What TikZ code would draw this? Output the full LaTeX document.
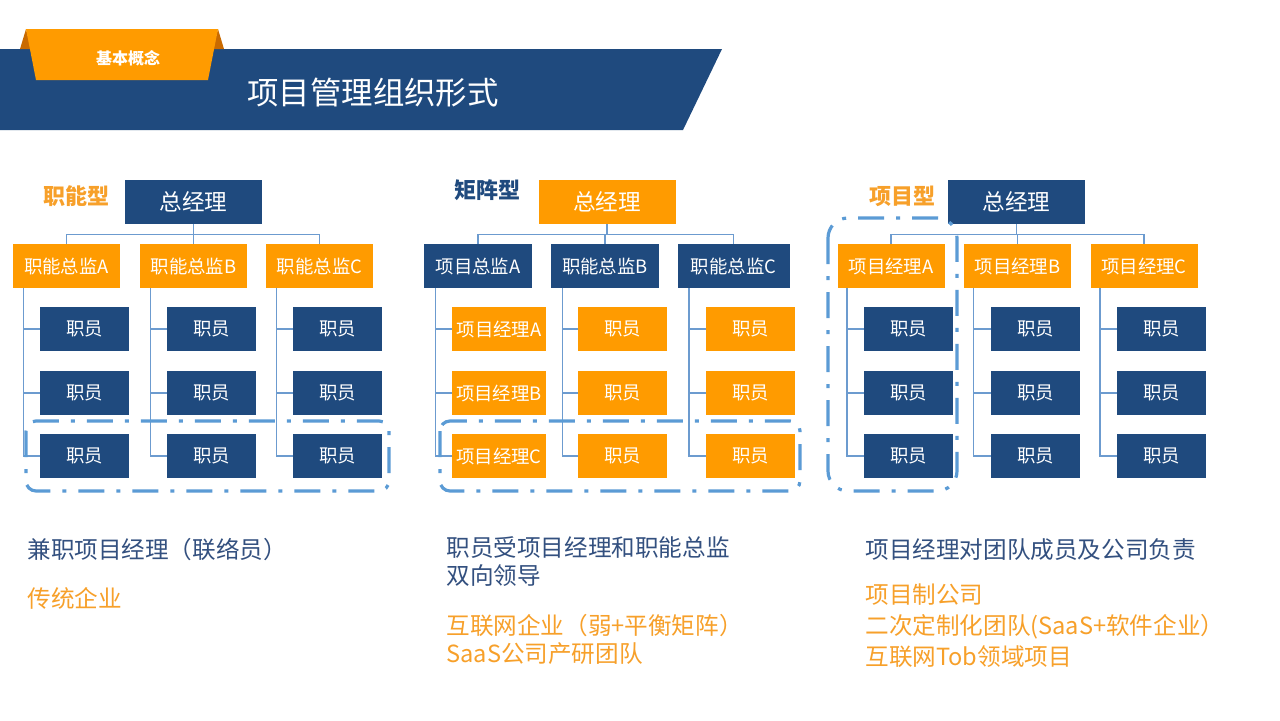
\documentclass[tikz,border=0pt]{standalone}
\usepackage{fontspec}
\setmainfont{Noto Sans CJK SC}
\usepackage{tikz}
\usepackage{xcolor}
\usetikzlibrary{positioning,calc}
\definecolor{navy}{HTML}{1F4A7E}
\definecolor{amber}{HTML}{FF9B00}
\definecolor{amberdark}{HTML}{C96A00}
\definecolor{linkblue}{HTML}{6C9BCF}
\definecolor{groupblue}{HTML}{5B9BD5}
\definecolor{textblue}{HTML}{33507F}
\definecolor{textamber}{HTML}{F7A02A}
\newcommand{\staffrows}{329/1,393/2,456/3}

\begin{document}
\begin{tikzpicture}[x=0.5pt,y=-0.5pt,
  box/.style={text=white, inner sep=0pt, minimum height=22pt},
  bluebox/.style={box, fill=navy},
  amberbox/.style={box, fill=amber},
  gm/.style={minimum width=68.5pt, font=\fontsize{11.3}{13}\selectfont},
  head/.style={minimum width=53.5pt, font=\fontsize{9.2}{11}\selectfont},
  staff/.style={minimum width=44.5pt, font=\fontsize{9.2}{11}\selectfont},
  link/.style={draw=linkblue, line width=0.8pt},
  group/.style={draw=groupblue, line width=1.6pt, dash pattern=on 13pt off 6pt on 2pt off 6pt},
  kind/.style={font=\fontsize{11}{13}\selectfont\bfseries},
  note/.style={anchor=west, align=left, inner sep=0pt}]
  \useasboundingbox[fill=white] (0,0) rectangle (1280,720);

  % header
  \fill[navy] (0,49) -- (722,49) -- (683,130) -- (0,130) -- cycle;
  \fill[amberdark] (26,29) -- (20,49) -- (31,49) -- cycle;
  \fill[amberdark] (218,29) -- (224,49) -- (213,49) -- cycle;
  \fill[amber] (26,29) -- (218,29) -- (208,80) -- (36,80) -- cycle;
  \node[text=white, font=\fontsize{8}{10}\selectfont\bfseries] (tag) at (128,58) {基本概念};
  \node[text=white, font=\fontsize{15.7}{18}\selectfont] (title) at (373,93) {项目管理组织形式};

  % functional
  \node[kind, text=textamber] (k1) at (76,196) {职能型};
  \node[bluebox, gm] (gm1) at (193.5,202) {总经理};
  \node[amberbox, head] (fa) at (66.5,266) {职能总监A};
  \node[amberbox, head] (fb) at (193.5,266) {职能总监B};
  \node[amberbox, head] (fc) at (319.5,266) {职能总监C};
  \foreach \h in {fa,fb,fc}
    \draw[link] (gm1.south) -- ++(0,-5pt) -| (\h.north);
  \foreach \y/\i in \staffrows {
    \node[bluebox, staff] (fa\i) at (84.5,\y) {职员};
    \node[bluebox, staff] (fb\i) at (211.5,\y) {职员};
    \node[bluebox, staff] (fc\i) at (337.5,\y) {职员};
    \foreach \h in {fa,fb,fc}
      \draw[link] ([xshift=5.5pt]\h.south west) |- (\h\i.west);
  }
  \draw[group, rounded corners=5pt] (26,421) rectangle (389,491);

  % matrix
  \node[kind, text=navy] (k2) at (487,190) {矩阵型};
  \node[amberbox, gm] (gm2) at (607,202) {总经理};
  \node[bluebox, head, minimum width=54pt] (pa) at (478,266) {项目总监A};
  \node[bluebox, head, minimum width=54pt] (pb) at (605,266) {职能总监B};
  \node[bluebox, head, minimum width=56pt] (pc) at (733.5,266) {职能总监C};
  \foreach \h in {pa,pb,pc}
    \draw[link] (gm2.south) -- ++(0,-5pt) -| (\h.north);
  \node[amberbox, staff, minimum width=47pt] (pa1) at (499,329) {项目经理A};
  \node[amberbox, staff, minimum width=47pt] (pa2) at (499,393) {项目经理B};
  \node[amberbox, staff, minimum width=47pt] (pa3) at (499,456) {项目经理C};
  \foreach \y/\i in \staffrows {
    \node[amberbox, staff] (pb\i) at (622.5,\y) {职员};
    \node[amberbox, staff] (pc\i) at (750.5,\y) {职员};
    \foreach \h in {pa,pb,pc}
      \draw[link] ([xshift=6pt]\h.south west) |- (\h\i.west);
  }
  \draw[group, rounded corners=5pt] (440,421) rectangle (800,491);

  % project
  \node[kind, text=textamber] (k3) at (902,196) {项目型};
  \node[bluebox, gm] (gm3) at (1016.5,202) {总经理};
  \node[amberbox, head] (ja) at (891,266) {项目经理A};
  \node[amberbox, head] (jb) at (1017.5,266) {项目经理B};
  \node[amberbox, head] (jc) at (1144,266) {项目经理C};
  \foreach \h in {ja,jb,jc}
    \draw[link] (gm3.south) -- ++(0,-5pt) -| (\h.north);
  \foreach \y/\i in \staffrows {
    \node[bluebox, staff] (ja\i) at (908.5,\y) {职员};
    \node[bluebox, staff] (jb\i) at (1035.5,\y) {职员};
    \node[bluebox, staff] (jc\i) at (1161.5,\y) {职员};
    \foreach \h in {ja,jb,jc}
      \draw[link] ([xshift=5pt]\h.south west) |- (\h\i.west);
  }
  \draw[group, rounded corners=10pt] (828,218) rectangle (957,491);

  % notes
  \node[note, text=textblue, font=\fontsize{11.8}{14}\selectfont] (n1) at (27,550) {兼职项目经理（联络员）};
  \node[note, text=textamber, font=\fontsize{11.8}{14}\selectfont] (m1) at (27,598) {传统企业};
  \node[note, text=textblue, font=\fontsize{11.8}{14}\selectfont] (n2) at (446,562) {职员受项目经理和职能总监\\双向领导};
  \node[note, text=textamber, font=\fontsize{11.8}{14}\selectfont] (m2) at (446,639) {互联网企业（弱+平衡矩阵）\\SaaS公司产研团队};
  \node[note, text=textblue, font=\fontsize{11.8}{14}\selectfont] (n3) at (865,550) {项目经理对团队成员及公司负责};
  \node[note, text=textamber, font=\fontsize{11.8}{15.5}\selectfont] (m3) at (865,626) {项目制公司\\二次定制化团队(SaaS+软件企业）\\互联网Tob领域项目};
\end{tikzpicture}
\end{document}
